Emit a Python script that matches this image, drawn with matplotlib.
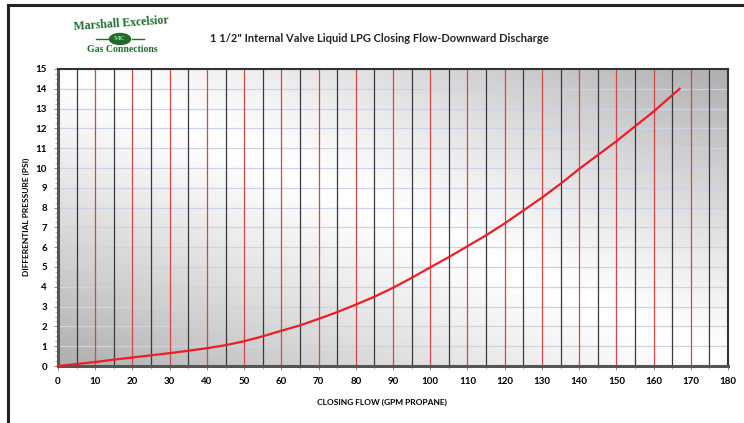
import matplotlib.pyplot as plt
import numpy as np
from matplotlib.patches import Ellipse
from matplotlib.lines import Line2D

# curve
flow = [0, 5, 10, 15, 20, 25, 30, 35, 40, 45, 50, 55, 60, 65, 70, 75, 80, 85,
        90, 95, 100, 105, 110, 115, 120, 125, 130, 135, 140, 145, 150, 155, 160, 167]
pressure = [0, 0.1, 0.2, 0.32, 0.43, 0.54, 0.65, 0.77, 0.9, 1.05, 1.25, 1.5, 1.78, 2.05,
            2.38, 2.72, 3.1, 3.5, 3.95, 4.45, 4.98, 5.5, 6.05, 6.6, 7.2, 7.85, 8.5,
            9.2, 9.95, 10.65, 11.35, 12.1, 12.85, 14.0]
x_ticks = list(range(0, 181, 10))
y_ticks = list(range(0, 16))
title = '1 1/2" Internal Valve Liquid LPG Closing Flow-Downward Discharge'
xlabel = 'CLOSING FLOW (GPM PROPANE)'
ylabel = 'DIFFERENTIAL PRESSURE (PSI)'

plt.rcParams['font.family'] = ['Lato', 'DejaVu Sans']

fig = plt.figure(figsize=(7.44, 4.23), dpi=100)
ax = fig.add_axes([58/744, 1 - 366/423, 670/744, 297/423])

# gradient background: white diagonal band (top-left -> bottom-right),
# grey towards bottom-left and top-right corners
u, v = np.meshgrid(np.linspace(0, 1, 300), np.linspace(0, 1, 200))
shade = 1.0 - 0.32 * np.abs(u + v - 1.0) ** 1.2
ax.imshow(shade, cmap='gray', vmin=0, vmax=1, extent=[0, 180, 0, 15],
          origin='lower', aspect='auto', zorder=0)

for val in y_ticks[1:]:
    ax.axhline(val, color='#c8d4ea', lw=0.9, zorder=1)
for val in range(5, 180, 5):
    if val % 10 == 0:
        ax.axvline(val, color='#d94444', lw=0.9, zorder=2)
    else:
        ax.axvline(val, color='#3a3a3a', lw=0.9, zorder=2)

ax.plot(flow, pressure, color='#ee1c24', lw=1.6, zorder=5, clip_on=False)

ax.set_xlim(0, 180)
ax.set_ylim(0, 15)
ax.set_xticks(x_ticks)
ax.set_yticks(y_ticks)
ax.set_xticks(range(5, 180, 10), minor=True)
ax.set_yticks(np.arange(0, 15, 0.25), minor=True)
ax.tick_params(labelsize=7, length=3, width=0.6, color='#777777', pad=5)
ax.tick_params(which='minor', length=2, width=0.5, color='#999999')
for lab in ax.get_xticklabels() + ax.get_yticklabels():
    lab.set_fontweight('bold')
for side, sp in ax.spines.items():
    sp.set_color('#555555' if side in ('left', 'bottom') else '#333333')
    sp.set_linewidth(2.2 if side in ('left', 'bottom') else 1.5)

ax.set_xlabel(xlabel, fontsize=6, fontweight='bold')
ax.set_ylabel(ylabel, fontsize=6, fontweight='bold')
ax.xaxis.set_label_coords((382 - 58) / 670, -(399 - 366) / 297)
ax.yaxis.set_label_coords(-(58 - 30) / 670, (366 - 217) / 297)

fig.text(379/744, 1 - 38/423, title, fontsize=8, fontweight='bold',
         ha='center', va='center', color='#222222')

# logo
green = '#1f6b2a'
fig.text(121/744, 1 - 24/423, 'Marshall Excelsior', family='Liberation Serif',
         fontsize=8.5, fontweight='bold', color=green, ha='center', va='center',
         rotation=4)
fig.text(122/744, 1 - 50/423, 'Gas Connections', family='Liberation Serif',
         fontsize=7, fontweight='bold', color=green, ha='center', va='center')
fig.add_artist(Ellipse((120/744, 1 - 39/423), 21/744, 11/423,
                       transform=fig.transFigure, color=green))
fig.text(120/744, 1 - 39/423, 'MC', family='Liberation Serif', fontsize=5,
         fontweight='bold', color='#a8d8a8', ha='center', va='center')
fig.add_artist(Line2D([96/744, 108/744], [1 - 39/423] * 2, color=green, lw=1,
                      transform=fig.transFigure))
fig.add_artist(Line2D([132/744, 144/744], [1 - 39/423] * 2, color=green, lw=1,
                      transform=fig.transFigure))

# outer frame
fig.add_artist(Line2D([8/744, 1], [1 - 5/423] * 2, color='#222222', lw=2.2,
                      transform=fig.transFigure))
fig.add_artist(Line2D([8/744, 8/744], [0, 1 - 5/423], color='#222222', lw=2.2,
                      transform=fig.transFigure))

fig.savefig('out.png', dpi=100)
